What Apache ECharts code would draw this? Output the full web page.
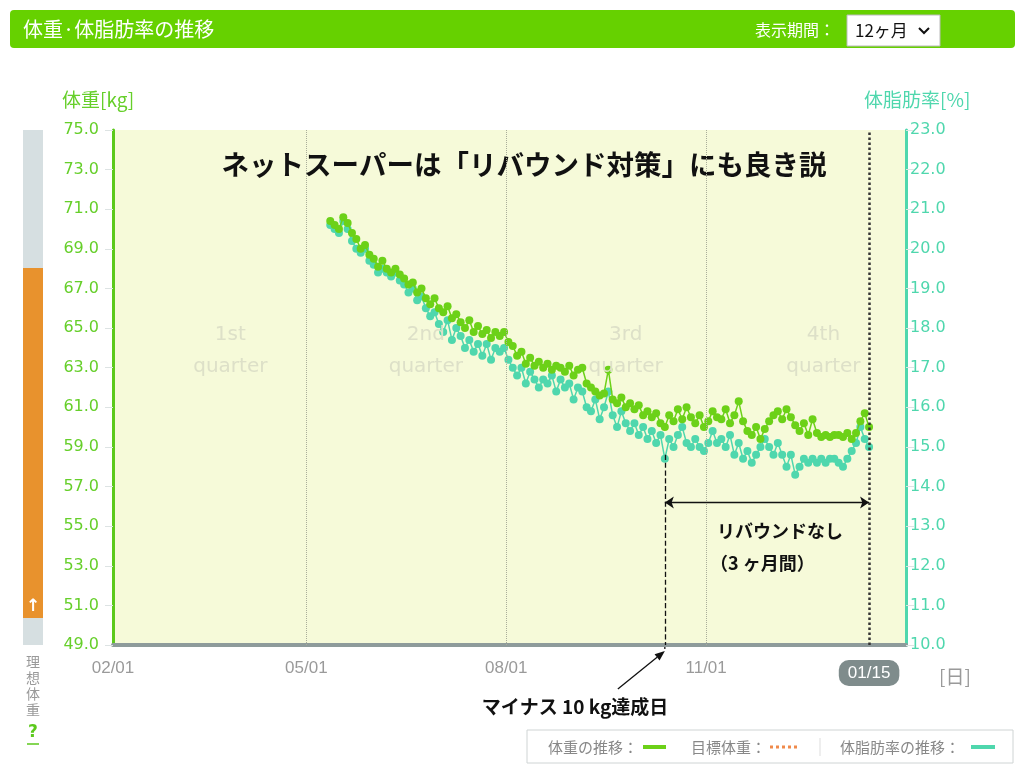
<!DOCTYPE html>
<html><head><meta charset="utf-8">
<script src="https://cdn.jsdelivr.net/npm/echarts@6/dist/echarts.min.js"></script>
<style>html,body{margin:0;padding:0;background:#fff}#c{width:1024px;height:774px}</style>
</head><body><div id="c"></div>
<script>
// ---- data ----
const xTickDays = [0, 89, 181, 273, 348];
const xTickLabels = ['02/01', '05/01', '08/01', '11/01', '01/15'];
const weightTicks = [49, 51, 53, 55, 57, 59, 61, 63, 65, 67, 69, 71, 73, 75];
const fatTicks = [10, 11, 12, 13, 14, 15, 16, 17, 18, 19, 20, 21, 22, 23];
const startDay = 100;   // 05/11
const stepDays = 2;
const weightKg = [
  70.4, 70.2, 70.0, 70.6, 70.3, 69.8, 69.5, 69.0, 69.2, 68.7,
  68.5, 68.1, 68.4, 68.0, 67.8, 68.0, 67.7, 67.5, 67.2, 67.3,
  66.8, 67.0, 66.5, 66.2, 66.5, 66.0, 65.8, 66.1, 65.5, 65.7,
  65.3, 65.0, 65.4, 64.8, 65.1, 64.7, 64.9, 64.5, 64.8, 64.6,
  64.8, 64.3, 64.1, 63.6, 63.8, 63.2, 63.5, 63.1, 63.3, 63.0,
  63.2, 62.9, 63.1, 63.0, 62.8, 63.1, 62.6, 62.9, 63.0, 62.2,
  62.0, 61.8, 61.6, 61.7, 62.9, 61.4, 61.2, 61.5, 61.0, 61.2,
  60.9, 61.1, 60.6, 60.8, 60.5, 60.7, 60.2, 60.0, 60.6, 60.3,
  60.9, 60.4, 61.0, 60.5, 60.2, 60.6, 60.0, 60.3, 60.8, 60.5,
  60.4, 60.9, 60.2, 60.6, 61.3, 60.3, 59.8, 59.6, 60.0, 59.4,
  59.9, 60.3, 60.6, 60.8, 60.4, 60.9, 60.5, 60.1, 59.8, 60.2,
  59.6, 60.4, 59.7, 59.5, 59.6, 59.5, 59.6, 59.6, 59.5, 59.7,
  59.4, 59.7, 60.3, 60.7, 60.0
];
const bodyFatPct = [
  20.6, 20.5, 20.4, 20.7, 20.5, 20.2, 20.0, 19.9, 20.0, 19.7,
  19.6, 19.4, 19.5, 19.4, 19.3, 19.4, 19.2, 19.1, 18.9, 19.0,
  18.7, 18.8, 18.5, 18.3, 18.4, 18.1, 17.9, 18.2, 17.7, 18.0,
  17.8, 17.5, 17.7, 17.4, 17.6, 17.3, 17.6, 17.2, 17.5, 17.4,
  17.5, 17.2, 17.0, 16.8, 17.0, 16.6, 16.9, 16.7, 16.5, 16.7,
  16.6, 16.8, 16.4, 16.7, 16.5, 16.6, 16.2, 16.5, 16.4, 16.0,
  15.9, 16.2, 15.7, 16.0, 16.4, 15.8, 15.5, 15.9, 15.6, 15.4,
  15.6, 15.3, 15.5, 15.2, 15.4, 15.1, 15.3, 14.7, 15.2, 15.0,
  15.3, 15.5, 15.1, 15.0, 15.2, 15.0, 14.9, 15.1, 15.4, 15.1,
  15.2, 15.0, 15.3, 14.8, 15.1, 14.7, 14.9, 14.6, 14.8, 15.0,
  15.2, 15.0, 14.8, 15.1, 14.8, 14.5, 14.8, 14.3, 14.5, 14.7,
  14.6, 14.7, 14.6, 14.7, 14.6, 14.7, 14.7, 14.6, 14.5, 14.7,
  14.9, 15.1, 15.5, 15.2, 15.0
];
const quarterLabels = ['1st\nquarter', '2nd\nquarter', '3rd\nquarter', '4th\nquarter'];
const quarterDays = [54, 144, 236, 327];
const milestoneDay = 254;
const lastDay = 348;

// ---- chart ----
const GREEN = '#6cd118', CYAN = '#4fd7ad', AXG = '#5cc91c';
const chart = echarts.init(document.getElementById('c'), null, {renderer: 'canvas'});
const wData = weightKg.map((v, i) => [startDay + i * stepDays, v]);
const fData = bodyFatPct.map((v, i) => [startDay + i * stepDays, v]);
const numFont = 'DejaVu Sans';
const jp = '"Noto Sans CJK JP", sans-serif';

function legendText(x, txt) {
  return {type: 'text', x: x, y: 747, style: {text: txt, fill: '#888', fontSize: 15, fontFamily: jp, verticalAlign: 'middle'}};
}

const option = {
  animation: false,
  grid: {left: 113, right: 118, top: 130, bottom: 129, show: true, backgroundColor: '#f6fad9', borderWidth: 0},
  xAxis: {
    type: 'value', min: 0, max: 365,
    axisLine: {show: true, lineStyle: {color: '#8e9b9b', width: 4}},
    axisTick: {show: false},
    splitLine: {show: false},
    axisLabel: {
      customValues: xTickDays, margin: 15, color: '#9a9a9a', fontSize: 17, fontFamily: 'Liberation Sans',
      formatter: v => { const i = xTickDays.indexOf(v); if (i < 0) return ''; return v === lastDay ? '{hl|' + xTickLabels[i] + '}' : xTickLabels[i]; },
      rich: {hl: {backgroundColor: '#7f8c8c', color: '#fff', borderRadius: 10, padding: [5, 9, 4, 9], fontSize: 17, fontFamily: 'Liberation Sans'}}
    }
  },
  yAxis: [
    {
      type: 'value', min: 49, max: 75, position: 'left',
      axisLine: {show: true, onZero: false, lineStyle: {color: AXG, width: 3}},
      axisTick: {show: true, customValues: weightTicks, length: 8, lineStyle: {color: '#dde3e3'}},
      splitLine: {show: false},
      axisLabel: {customValues: weightTicks, color: '#66cf2a', fontSize: 16, fontFamily: numFont, margin: 14, formatter: v => v.toFixed(1)}
    },
    {
      type: 'value', min: 10, max: 23, position: 'right',
      axisLine: {show: true, onZero: false, lineStyle: {color: CYAN, width: 3}},
      axisTick: {show: true, customValues: fatTicks, length: 8, lineStyle: {color: '#dde3e3'}},
      splitLine: {show: false},
      axisLabel: {customValues: fatTicks, color: CYAN, fontSize: 16, fontFamily: numFont, margin: 4, formatter: v => v.toFixed(1)}
    }
  ],
  series: [
    {
      name: '体脂肪率', type: 'line', yAxisIndex: 1, data: fData,
      symbol: 'circle', symbolSize: 8, showSymbol: true,
      itemStyle: {color: CYAN}, lineStyle: {color: CYAN, width: 1.5}, z: 3
    },
    {
      name: '体重', type: 'line', yAxisIndex: 0, data: wData,
      symbol: 'circle', symbolSize: 8, showSymbol: true,
      itemStyle: {color: GREEN}, lineStyle: {color: GREEN, width: 1.5}, z: 4,
      markLine: {
        silent: true, symbol: ['none', 'none'], label: {show: false}, animation: false,
        data: [
          {xAxis: xTickDays[1], lineStyle: {color: '#a9ad9a', type: 'dotted', width: 1}},
          {xAxis: xTickDays[2], lineStyle: {color: '#a9ad9a', type: 'dotted', width: 1}},
          {xAxis: xTickDays[3], lineStyle: {color: '#a9ad9a', type: 'dotted', width: 1}},
          {xAxis: lastDay, lineStyle: {color: '#333', type: 'dotted', width: 2.5}},
          [{coord: [milestoneDay, 58.6], lineStyle: {color: '#111', type: 'dashed', width: 1.3}}, {coord: [milestoneDay, 49]}],
          [{coord: [milestoneDay, 56.2], symbol: 'arrow', symbolSize: 9, lineStyle: {color: '#111', type: 'solid', width: 1.3}}, {coord: [lastDay, 56.2], symbol: 'arrow', symbolSize: 9}]
        ]
      },
      markPoint: {
        silent: true, symbol: 'circle', symbolSize: 0, animation: false,
        label: {show: true, position: 'inside', color: '#dde0c8', fontSize: 20, lineHeight: 32, fontFamily: numFont},
        data: quarterLabels.map((t, i) => ({coord: [quarterDays[i], 63.84], value: t, label: {formatter: t}}))
      }
    }
  ],
  graphic: [
    // header bar
    {type: 'rect', shape: {x: 10, y: 10, width: 1005, height: 38, r: 4}, style: {fill: '#66d100'}, silent: true},
    {type: 'text', x: 23, y: 29, style: {text: '体重·体脂肪率の推移', fill: '#fff', fontSize: 20, fontFamily: jp, verticalAlign: 'middle'}},
    {type: 'text', x: 755, y: 30, style: {text: '表示期間：', fill: '#fff', fontSize: 16, fontFamily: jp, verticalAlign: 'middle'}},
    {type: 'rect', shape: {x: 847, y: 15, width: 93, height: 31}, style: {fill: '#fff', stroke: '#bbb', lineWidth: 1}},
    {type: 'text', x: 855, y: 31, style: {text: '12ヶ月', fill: '#111', fontSize: 17, fontFamily: jp, verticalAlign: 'middle'}},
    {type: 'polyline', shape: {points: [[919, 28], [924, 33], [929, 28]]}, style: {stroke: '#111', lineWidth: 2, fill: null}},
    // axis names
    {type: 'text', x: 62, y: 100, style: {text: '体重[kg]', fill: '#66cf2a', fontSize: 19, fontFamily: jp, verticalAlign: 'middle'}},
    {type: 'text', x: 864, y: 100, style: {text: '体脂肪率[%]', fill: CYAN, fontSize: 19, fontFamily: jp, verticalAlign: 'middle'}},
    {type: 'text', x: 939, y: 677, style: {text: '[日]', fill: '#9a9a9a', fontSize: 19, fontFamily: jp, verticalAlign: 'middle'}},
    // left ideal-weight bar
    {type: 'rect', shape: {x: 23, y: 130, width: 20, height: 515}, style: {fill: '#d6dfe1'}},
    {type: 'rect', shape: {x: 23, y: 268, width: 20, height: 350}, style: {fill: '#e8922d'}},
    {type: 'text', x: 33, y: 607, style: {text: '↑', fill: '#fff', fontSize: 17, align: 'center', verticalAlign: 'middle', fontWeight: 'bold', fontFamily: numFont}},
    {type: 'text', x: 33, y: 686, style: {text: '理\n想\n体\n重', fill: '#999', fontSize: 14, lineHeight: 16, fontFamily: jp, align: 'center', verticalAlign: 'middle'}},
    {type: 'text', x: 33, y: 733, style: {text: '?', fill: '#5cc91c', fontSize: 17, fontWeight: 'bold', fontFamily: numFont, align: 'center', verticalAlign: 'middle'}},
    {type: 'line', shape: {x1: 27, y1: 744, x2: 39, y2: 744}, style: {stroke: '#5cc91c', lineWidth: 1.5}},
    // title in plot
    {type: 'text', x: 524, y: 165, style: {text: 'ネットスーパーは「リバウンド対策」にも良き説', fill: '#111', fontSize: 27.5, fontWeight: 'bold', fontFamily: jp, align: 'center', verticalAlign: 'middle'}},
    // annotations
    {type: 'text', x: 780, y: 531, style: {text: 'リバウンドなし', fill: '#111', fontSize: 18, fontWeight: 'bold', fontFamily: jp, align: 'center', verticalAlign: 'middle'}},
    {type: 'text', x: 710, y: 563, style: {text: '（3 ヶ月間）', fill: '#111', fontSize: 18, fontWeight: 'bold', fontFamily: jp, verticalAlign: 'middle'}},
    {type: 'text', x: 575, y: 707, style: {text: 'マイナス 10 kg達成日', fill: '#111', fontSize: 19, fontWeight: 'bold', fontFamily: jp, align: 'center', verticalAlign: 'middle'}},
    // legend box
    {type: 'rect', shape: {x: 527, y: 730, width: 486, height: 33}, style: {fill: '#fff', stroke: '#cfd4d4', lineWidth: 1}},
    legendText(548, '体重の推移：'),
    {type: 'line', shape: {x1: 643, y1: 747, x2: 666, y2: 747}, style: {stroke: GREEN, lineWidth: 4}},
    legendText(691, '目標体重：'),
    {type: 'line', shape: {x1: 770, y1: 747, x2: 800, y2: 747}, style: {stroke: '#f08a4b', lineWidth: 3, lineDash: [3, 3]}},
    {type: 'line', shape: {x1: 820, y1: 738, x2: 820, y2: 756}, style: {stroke: '#ddd', lineWidth: 1}},
    legendText(840, '体脂肪率の推移：'),
    {type: 'line', shape: {x1: 971, y1: 747, x2: 995, y2: 747}, style: {stroke: CYAN, lineWidth: 4}}
  ]
};
chart.setOption(option);

// pointer arrow from the caption to the milestone day on the axis
const tip = chart.convertToPixel({xAxisIndex: 0, yAxisIndex: 0}, [milestoneDay, 49]);
const tail = [tip[0] - 47, tip[1] + 44];
tip[1] += 6;
const ang = Math.atan2(tip[1] - tail[1], tip[0] - tail[0]);
const L = 10, W = 4;
const hb = [tip[0] - L * Math.cos(ang), tip[1] - L * Math.sin(ang)];
const head = [
  tip,
  [hb[0] + W * Math.sin(ang), hb[1] - W * Math.cos(ang)],
  [hb[0] - W * Math.sin(ang), hb[1] + W * Math.cos(ang)]
];
chart.setOption({graphic: option.graphic.concat([
  {type: 'line', shape: {x1: tail[0], y1: tail[1], x2: hb[0], y2: hb[1]}, style: {stroke: '#111', lineWidth: 1.3}},
  {type: 'polygon', shape: {points: head}, style: {fill: '#111'}},
  {type: 'line', shape: {x1: tip[0], y1: tip[1] - 6, x2: tip[0], y2: tip[1] + 1}, style: {stroke: '#111', lineWidth: 1.3, lineDash: [4, 3]}}
])});
</script></body></html>
